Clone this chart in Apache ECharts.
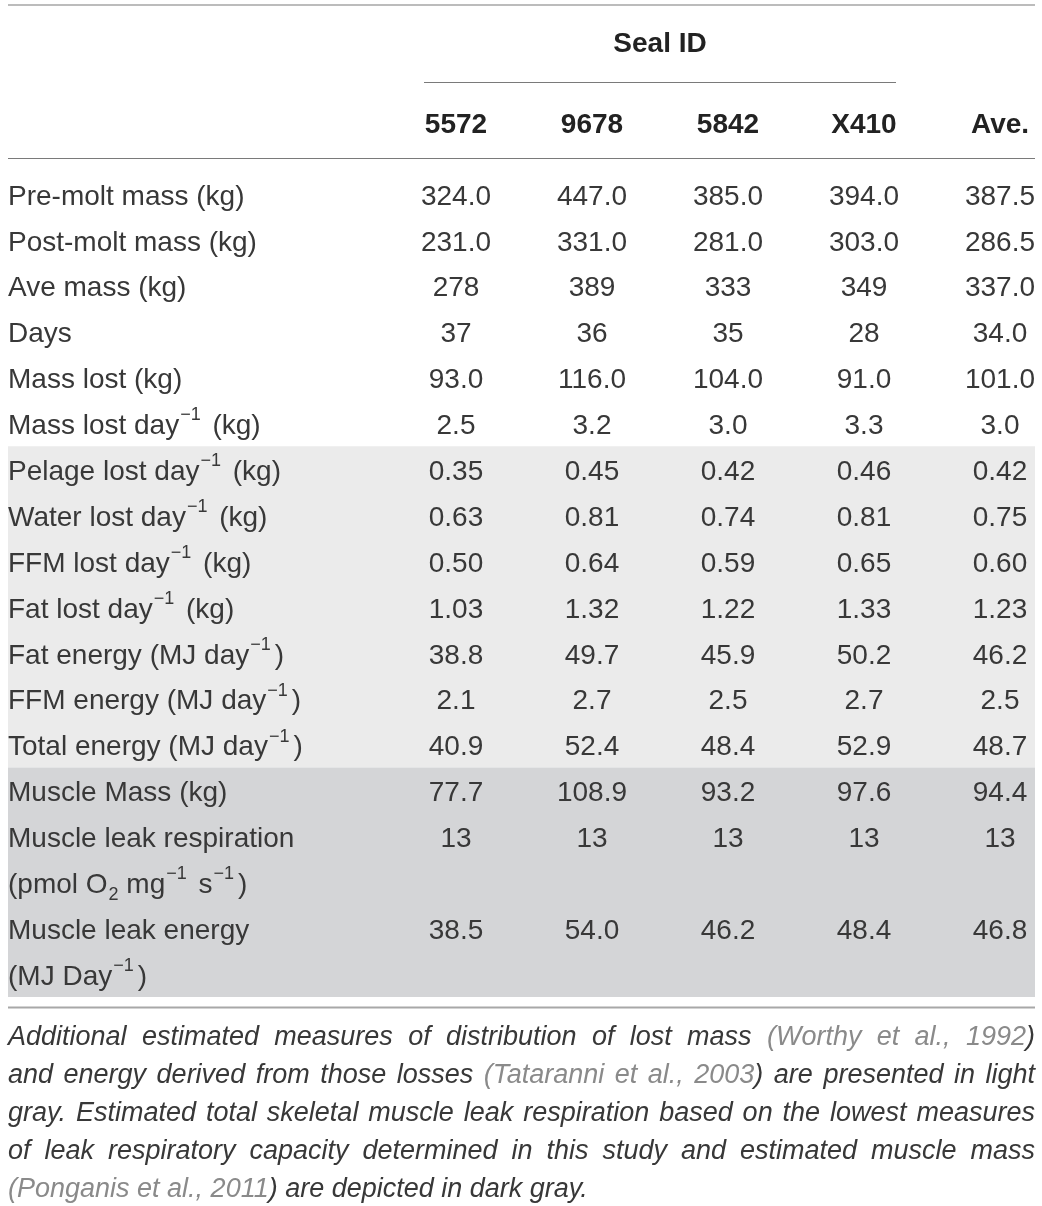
<!DOCTYPE html>
<html>
<head>
<meta charset="utf-8">
<script src="https://cdn.jsdelivr.net/npm/echarts@6/dist/echarts.min.js"></script>
<style>
  html, body { margin: 0; background: #fff; }
  #main { width: 1042px; height: 1206px; }
</style>
</head>
<body>
<div id="main"></div>
<script>
// ---- data ----
const seals = ['5572', '9678', '5842', 'X410', 'Ave.']
const rowLabels = [
  'Pre-molt mass (kg)',
  'Post-molt mass (kg)',
  'Ave mass (kg)',
  'Days',
  'Mass lost (kg)',
  'Mass lost day{sup|−1} (kg)',
  'Pelage lost day{sup|−1} (kg)',
  'Water lost day{sup|−1} (kg)',
  'FFM lost day{sup|−1} (kg)',
  'Fat lost day{sup|−1} (kg)',
  'Fat energy (MJ day{sup|−1})',
  'FFM energy (MJ day{sup|−1})',
  'Total energy (MJ day{sup|−1})',
  'Muscle Mass (kg)',
  'Muscle leak respiration\n(pmol O{sub|2} mg{sup|−1} s{sup|−1})',
  'Muscle leak energy\n(MJ Day{sup|−1})'
]
const rowSpans = [1, 1, 1, 1, 1, 1, 1, 1, 1, 1, 1, 1, 1, 1, 2, 2]
const v5572 = ['324.0', '231.0', '278', '37', '93.0', '2.5', '0.35', '0.63', '0.50', '1.03', '38.8', '2.1', '40.9', '77.7', '13', '38.5']
const v9678 = ['447.0', '331.0', '389', '36', '116.0', '3.2', '0.45', '0.81', '0.64', '1.32', '49.7', '2.7', '52.4', '108.9', '13', '54.0']
const v5842 = ['385.0', '281.0', '333', '35', '104.0', '3.0', '0.42', '0.74', '0.59', '1.22', '45.9', '2.5', '48.4', '93.2', '13', '46.2']
const vX410 = ['394.0', '303.0', '349', '28', '91.0', '3.3', '0.46', '0.81', '0.65', '1.33', '50.2', '2.7', '52.9', '97.6', '13', '48.4']
const vAve = ['387.5', '286.5', '337.0', '34.0', '101.0', '3.0', '0.42', '0.75', '0.60', '1.23', '46.2', '2.5', '48.7', '94.4', '13', '46.8']
// shaded row groups: [first row, last row] (inclusive)
const lightGroup = [6, 12]
const darkGroup = [13, 15]
const caption = [
  'Additional estimated measures of distribution of lost mass [(Worthy et al., 1992])',
  'and energy derived from those losses [(Tataranni et al., 2003]) are presented in light',
  'gray. Estimated total skeletal muscle leak respiration based on the lowest measures',
  'of leak respiratory capacity determined in this study and estimated muscle mass',
  '[(Ponganis et al., 2011]) are depicted in dark gray.'
]

// ---- layout / style ----
const FAMILY = "'Liberation Sans', Arial, sans-serif"
const BODY_FONT = '28px ' + FAMILY
const BOLD_FONT = 'bold 28px ' + FAMILY
const SMALL_FONT = '18px ' + FAMILY
const CAPTION_FONT = 'italic 27px ' + FAMILY
const TEXT = '#383838'
const CITE = '#8a8a8a'
const LIGHT = '#ebebeb'
const DARK = '#d4d5d7'
const RULE = '#7a7a7a'
const T_LEFT = 8
const T_RIGHT = 1035
const NUDGE = 3 // canvas 'middle' sits a little high for this face

const columns = [v5572, v9678, v5842, vX410, vAve]
const rowStart = []
rowSpans.reduce((acc, s, i) => { rowStart[i] = acc; return acc + s }, 0)
const totalUnits = rowStart[rowStart.length - 1] + rowSpans[rowSpans.length - 1]

const cells = []
rowLabels.forEach((lab, i) => {
  cells.push([-1, rowStart[i], rowSpans[i], lab])
  columns.forEach((col, c) => cells.push([c, rowStart[i], 1, col[i]]))
})
const bands = [
  [rowStart[lightGroup[0]], rowStart[lightGroup[1]] + rowSpans[lightGroup[1]], LIGHT],
  [rowStart[darkGroup[0]], rowStart[darkGroup[1]] + rowSpans[darkGroup[1]], DARK]
]

const chart = echarts.init(document.getElementById('main'), null, { renderer: 'canvas' })

chart.setOption({
  animation: false,
  backgroundColor: '#fff',
  grid: { left: 456, right: 42, top: 171, bottom: 1206 - 997, outerBoundsMode: 'none' },
  xAxis: {
    type: 'value', min: 0, max: 4, interval: 1, position: 'top',
    axisLine: { show: false }, axisTick: { show: false }, splitLine: { show: false },
    axisLabel: {
      formatter: v => seals[v] || '',
      fontFamily: FAMILY, fontSize: 28, fontWeight: 'bold', color: '#222',
      margin: 32, lineHeight: 28
    }
  },
  yAxis: { type: 'value', min: 0, max: totalUnits, inverse: true, show: false },
  series: [
    {
      type: 'custom',
      silent: true,
      data: bands.map(b => [0, b[0], b[1]]),
      renderItem: (params, api) => {
        const top = api.coord([0, api.value(1)])[1]
        const bot = api.coord([0, api.value(2)])[1]
        return {
          type: 'rect',
          shape: { x: T_LEFT, y: top, width: T_RIGHT - T_LEFT, height: bot - top },
          style: { fill: bands[params.dataIndex][2] }
        }
      }
    },
    {
      type: 'custom',
      silent: true,
      data: cells.map(c => [c[0], c[1], c[2]]),
      renderItem: (params, api) => {
        const col = api.value(0)
        const start = api.value(1)
        const span = api.value(2)
        const unit = api.coord([0, 1])[1] - api.coord([0, 0])[1]
        const isLabel = col < 0
        const x = isLabel ? T_LEFT : api.coord([col, 0])[0]
        const y = api.coord([0, start + (isLabel ? span / 2 : 0.5)])[1] + NUDGE
        return {
          type: 'text',
          style: {
            x: x, y: y,
            text: cells[params.dataIndex][3],
            font: BODY_FONT,
            fill: TEXT,
            align: isLabel ? 'left' : 'center',
            verticalAlign: 'middle',
            lineHeight: unit,
            rich: {
              sup: { font: SMALL_FONT, fill: TEXT, verticalAlign: 'middle', padding: [0, 4, 22, 1] },
              sub: { font: SMALL_FONT, fill: TEXT, verticalAlign: 'middle', padding: [20, 0, 0, 1] }
            }
          }
        }
      }
    }
  ]
})

// ---- rules, spanning header and justified caption ----
const px = c => chart.convertToPixel({ xAxisIndex: 0 }, c)
const graphics = [
  { type: 'line', shape: { x1: T_LEFT, y1: 5, x2: T_RIGHT, y2: 5 }, style: { stroke: RULE, lineWidth: 1.2 } },
  { type: 'line', shape: { x1: px(0) - 32, y1: 82.5, x2: px(3) + 32, y2: 82.5 }, style: { stroke: RULE, lineWidth: 1.2 } },
  { type: 'line', shape: { x1: T_LEFT, y1: 158.5, x2: T_RIGHT, y2: 158.5 }, style: { stroke: RULE, lineWidth: 1.2 } },
  { type: 'line', shape: { x1: T_LEFT, y1: 1007.5, x2: T_RIGHT, y2: 1007.5 }, style: { stroke: '#a8a8a8', lineWidth: 2.2 } },
  {
    type: 'text',
    style: { x: (px(0) + px(3)) / 2, y: 42 + 2, text: 'Seal ID', font: BOLD_FONT, fill: '#222', align: 'center', verticalAlign: 'middle' }
  }
]

const ctx = document.createElement('canvas').getContext('2d')
ctx.font = CAPTION_FONT
const spaceW = ctx.measureText(' ').width
caption.forEach((line, li) => {
  let gray = false
  const words = line.split(' ').map(w => {
    const runs = []
    let cur = ''
    for (const ch of w) {
      if (ch === '[' || ch === ']') {
        if (cur) runs.push({ t: cur, gray: gray })
        cur = ''
        gray = ch === '['
      } else cur += ch
    }
    if (cur) runs.push({ t: cur, gray: gray })
    runs.forEach(r => { r.w = ctx.measureText(r.t).width })
    return { runs: runs, w: runs.reduce((s, r) => s + r.w, 0) }
  })
  const last = li === caption.length - 1
  const sum = words.reduce((s, w) => s + w.w, 0)
  const gap = last ? spaceW : Math.max(spaceW * 0.6, (T_RIGHT - T_LEFT - sum) / (words.length - 1))
  let x = T_LEFT
  const y = 1035 + li * 38 + 2
  words.forEach(w => {
    w.runs.forEach(r => {
      graphics.push({
        type: 'text',
        style: { x: x, y: y, text: r.t, font: CAPTION_FONT, fill: r.gray ? CITE : TEXT, align: 'left', verticalAlign: 'middle' }
      })
      x += r.w
    })
    x += gap
  })
})

chart.setOption({ graphic: graphics })
</script>
</body>
</html>
